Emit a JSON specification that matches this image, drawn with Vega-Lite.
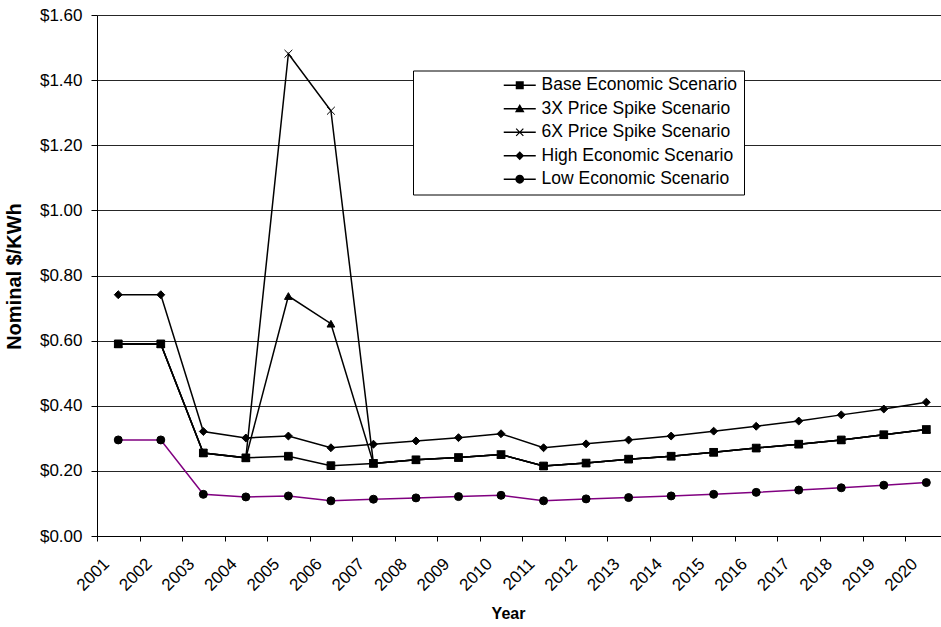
{
  "$schema": "https://vega.github.io/schema/vega-lite/v6.json",
  "width": 844,
  "height": 521,
  "autosize": {"type": "none"},
  "padding": {"left": 97, "top": 15, "right": 0, "bottom": 91},
  "background": "white",
  "config": {
    "view": {"stroke": null},
    "font": "Liberation Sans",
    "legend": {"orient": "none", "legendX": 316, "legendY": 55.5, "strokeColor": "black", "fillColor": "white", "padding": 6, "cornerRadius": 0, "labelFont": "Liberation Sans", "labelFontSize": 17.5, "labelColor": "black", "labelLimit": 0, "symbolSize": 256, "symbolOffset": 92, "labelOffset": 13, "rowPadding": 4.5, "symbolStrokeWidth": 0, "symbolOpacity": 1, "title": null}
  },
  "data": {
    "values": [
      {"year": 2001, "Base Economic Scenario": 0.590, "3X Price Spike Scenario": 0.590, "6X Price Spike Scenario": 0.590, "High Economic Scenario": 0.741, "Low Economic Scenario": 0.295},
      {"year": 2002, "Base Economic Scenario": 0.590, "3X Price Spike Scenario": 0.590, "6X Price Spike Scenario": 0.590, "High Economic Scenario": 0.741, "Low Economic Scenario": 0.295},
      {"year": 2003, "Base Economic Scenario": 0.255, "3X Price Spike Scenario": 0.255, "6X Price Spike Scenario": 0.255, "High Economic Scenario": 0.321, "Low Economic Scenario": 0.128},
      {"year": 2004, "Base Economic Scenario": 0.240, "3X Price Spike Scenario": 0.240, "6X Price Spike Scenario": 0.240, "High Economic Scenario": 0.301, "Low Economic Scenario": 0.120},
      {"year": 2005, "Base Economic Scenario": 0.245, "3X Price Spike Scenario": 0.737, "6X Price Spike Scenario": 1.481, "High Economic Scenario": 0.307, "Low Economic Scenario": 0.123},
      {"year": 2006, "Base Economic Scenario": 0.216, "3X Price Spike Scenario": 0.652, "6X Price Spike Scenario": 1.306, "High Economic Scenario": 0.271, "Low Economic Scenario": 0.108},
      {"year": 2007, "Base Economic Scenario": 0.223, "3X Price Spike Scenario": 0.223, "6X Price Spike Scenario": 0.223, "High Economic Scenario": 0.282, "Low Economic Scenario": 0.113},
      {"year": 2008, "Base Economic Scenario": 0.234, "3X Price Spike Scenario": 0.234, "6X Price Spike Scenario": 0.234, "High Economic Scenario": 0.292, "Low Economic Scenario": 0.117},
      {"year": 2009, "Base Economic Scenario": 0.241, "3X Price Spike Scenario": 0.241, "6X Price Spike Scenario": 0.241, "High Economic Scenario": 0.302, "Low Economic Scenario": 0.121},
      {"year": 2010, "Base Economic Scenario": 0.250, "3X Price Spike Scenario": 0.250, "6X Price Spike Scenario": 0.250, "High Economic Scenario": 0.314, "Low Economic Scenario": 0.125},
      {"year": 2011, "Base Economic Scenario": 0.215, "3X Price Spike Scenario": 0.215, "6X Price Spike Scenario": 0.215, "High Economic Scenario": 0.271, "Low Economic Scenario": 0.108},
      {"year": 2012, "Base Economic Scenario": 0.224, "3X Price Spike Scenario": 0.224, "6X Price Spike Scenario": 0.224, "High Economic Scenario": 0.283, "Low Economic Scenario": 0.114},
      {"year": 2013, "Base Economic Scenario": 0.236, "3X Price Spike Scenario": 0.236, "6X Price Spike Scenario": 0.236, "High Economic Scenario": 0.295, "Low Economic Scenario": 0.118},
      {"year": 2014, "Base Economic Scenario": 0.245, "3X Price Spike Scenario": 0.245, "6X Price Spike Scenario": 0.245, "High Economic Scenario": 0.307, "Low Economic Scenario": 0.123},
      {"year": 2015, "Base Economic Scenario": 0.257, "3X Price Spike Scenario": 0.257, "6X Price Spike Scenario": 0.257, "High Economic Scenario": 0.322, "Low Economic Scenario": 0.128},
      {"year": 2016, "Base Economic Scenario": 0.270, "3X Price Spike Scenario": 0.270, "6X Price Spike Scenario": 0.270, "High Economic Scenario": 0.337, "Low Economic Scenario": 0.134},
      {"year": 2017, "Base Economic Scenario": 0.282, "3X Price Spike Scenario": 0.282, "6X Price Spike Scenario": 0.282, "High Economic Scenario": 0.353, "Low Economic Scenario": 0.141},
      {"year": 2018, "Base Economic Scenario": 0.295, "3X Price Spike Scenario": 0.295, "6X Price Spike Scenario": 0.295, "High Economic Scenario": 0.372, "Low Economic Scenario": 0.148},
      {"year": 2019, "Base Economic Scenario": 0.311, "3X Price Spike Scenario": 0.311, "6X Price Spike Scenario": 0.311, "High Economic Scenario": 0.390, "Low Economic Scenario": 0.156},
      {"year": 2020, "Base Economic Scenario": 0.327, "3X Price Spike Scenario": 0.327, "6X Price Spike Scenario": 0.327, "High Economic Scenario": 0.411, "Low Economic Scenario": 0.164}
    ]
  },
  "transform": [
    {"fold": ["Base Economic Scenario", "3X Price Spike Scenario", "6X Price Spike Scenario", "High Economic Scenario", "Low Economic Scenario"], "as": ["series", "value"]}
  ],
  "encoding": {
    "x": {
      "field": "year",
      "type": "quantitative",
      "scale": {"domain": [2000.5, 2020.345], "nice": false, "zero": false},
      "axis": {
        "values": [2001, 2002, 2003, 2004, 2005, 2006, 2007, 2008, 2009, 2010, 2011, 2012, 2013, 2014, 2015, 2016, 2017, 2018, 2019, 2020],
        "format": "d",
        "grid": false,
        "tickOffset": -21.265,
        "labelOffset": 9.27,
        "labelAngle": -45,
        "labelAlign": "right",
        "labelBaseline": "middle",
        "labelPadding": 20,
        "tickSize": 5,
        "tickColor": "black",
        "domainColor": "black",
        "labelFont": "Liberation Sans",
        "labelFontSize": 17,
        "labelColor": "black",
        "labelFlush": false,
        "labelOverlap": false,
        "labelBound": false,
        "title": "Year",
        "titleFont": "Liberation Sans",
        "titleFontSize": 16,
        "titleFontWeight": "bold",
        "titleColor": "black",
        "titleX": 411,
        "titleY": 77,
        "titleBaseline": "middle",
        "titleAlign": "center"
      }
    },
    "y": {
      "field": "value",
      "type": "quantitative",
      "scale": {"domain": [0, 1.6], "nice": false, "zero": true},
      "axis": {
        "values": [0, 0.2, 0.4, 0.6, 0.8, 1.0, 1.2, 1.4, 1.6],
        "format": "$.2f",
        "grid": true,
        "gridColor": "black",
        "gridWidth": 1,
        "gridOpacity": 0.85,
        "domainColor": "black",
        "tickColor": "black",
        "tickSize": 6,
        "labelFont": "Liberation Sans",
        "labelFontSize": 17,
        "labelColor": "black",
        "labelPadding": 9,
        "title": "Nominal $/KWh",
        "titleFont": "Liberation Sans",
        "titleFontSize": 20,
        "titleFontWeight": "bold",
        "titleColor": "black",
        "titleX": -73,
        "titleY": 261,
        "titleAngle": 270,
        "titleBaseline": "bottom",
        "titleAlign": "center"
      }
    }
  },
  "layer": [
    {
      "mark": {"type": "line", "strokeWidth": 1.5},
      "encoding": {
        "color": {
          "field": "series",
          "type": "nominal",
          "scale": {
            "domain": ["Base Economic Scenario", "3X Price Spike Scenario", "6X Price Spike Scenario", "High Economic Scenario", "Low Economic Scenario"],
            "range": ["black", "black", "black", "black", "#800080"]
          },
          "legend": null
        }
      }
    },
    {
      "mark": {"type": "point", "filled": true, "fill": "black", "stroke": "black", "strokeWidth": 1, "opacity": 1},
      "encoding": {
        "shape": {
          "field": "series",
          "type": "nominal",
          "scale": {
            "domain": ["Base Economic Scenario", "3X Price Spike Scenario", "6X Price Spike Scenario", "High Economic Scenario", "Low Economic Scenario"],
            "range": ["square", "triangle-up", "M-1,-1L1,1M-1,1L1,-1", "diamond", "circle"]
          },
          "legend": null
        },
        "size": {
          "field": "series",
          "type": "nominal",
          "scale": {
            "domain": ["Base Economic Scenario", "3X Price Spike Scenario", "6X Price Spike Scenario", "High Economic Scenario", "Low Economic Scenario"],
            "range": [59, 64, 49, 42, 53]
          },
          "legend": null
        }
      }
    },
    {
      "mark": {"type": "point", "filled": true, "opacity": 0},
      "encoding": {
        "shape": {
          "field": "series",
          "type": "nominal",
          "scale": {
            "domain": ["Base Economic Scenario", "3X Price Spike Scenario", "6X Price Spike Scenario", "High Economic Scenario", "Low Economic Scenario"],
            "range": [
              "M-2,-0.094H2V0.094H-2ZM-0.5,-0.5H0.5V0.5H-0.5Z",
              "M-2,-0.094H2V0.094H-2ZM0,-0.6L0.6,0.45H-0.6Z",
              "M-2,-0.094H2V0.094H-2ZM-0.397,-0.503L0.503,0.397L0.397,0.503L-0.503,-0.397ZM-0.397,0.503L-0.503,0.397L0.397,-0.503L0.503,-0.397Z",
              "M-2,-0.094H2V0.094H-2ZM0,-0.55L0.55,0L0,0.55L-0.55,0Z",
              "M-2,-0.094H2V0.094H-2ZM0.55,0A0.55,0.55,0,1,1,-0.55,0A0.55,0.55,0,1,1,0.55,0Z"
            ]
          },
          "legend": {"orient": "none", "legendX": 316, "legendY": 55.5, "title": null}
        },
        "fill": {
          "field": "series",
          "type": "nominal",
          "scale": {
            "domain": ["Base Economic Scenario", "3X Price Spike Scenario", "6X Price Spike Scenario", "High Economic Scenario", "Low Economic Scenario"],
            "range": ["black", "black", "black", "black", "#800080"]
          },
          "legend": {"orient": "none", "legendX": 316, "legendY": 55.5, "title": null}
        }
      }
    }
  ],
  "resolve": {"scale": {"shape": "independent", "size": "independent"}}
}
